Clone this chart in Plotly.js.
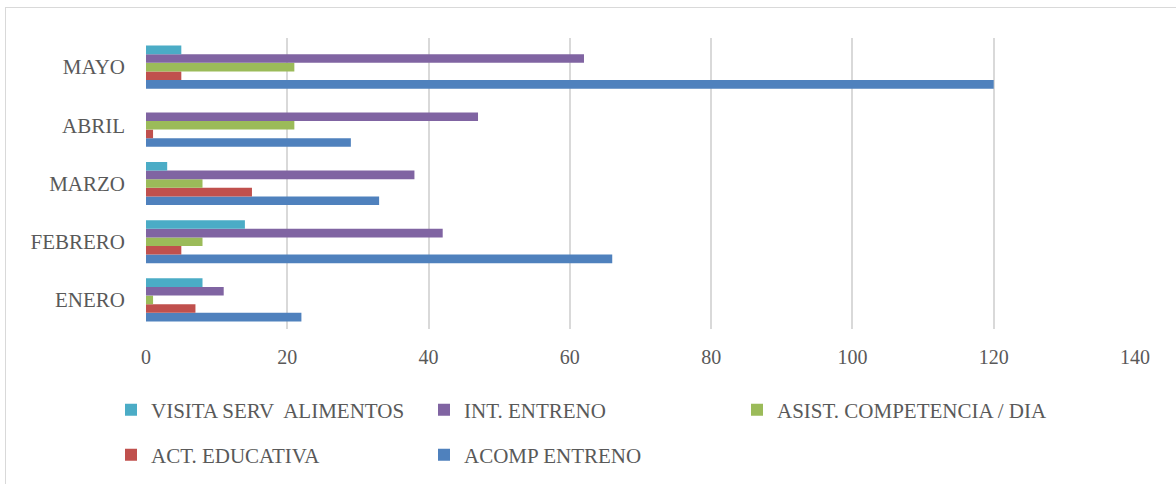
<!DOCTYPE html>
<html>
<head>
<meta charset="utf-8">
<script src="https://cdn.plot.ly/plotly-3.0.1.min.js"></script>
<style>
  html, body { margin: 0; padding: 0; background: #fff; }
  #wrap { position: relative; width: 1176px; height: 484px; }
  #chart { width: 1176px; height: 484px; }
  #frame { position: absolute; left: 5px; top: 7px; right: -2px; bottom: -2px;
           border-left: 1.5px solid #D9D9D9; border-top: 1.5px solid #D9D9D9; pointer-events: none; }
</style>
</head>
<body>
<div id="wrap">
  <div id="chart"></div>
  <div id="frame"></div>
</div>
<script>
const categories = ["ENERO", "FEBRERO", "MARZO", "ABRIL", "MAYO"];
const acompEntreno = [22, 66, 33, 29, 120];
const actEducativa = [7, 5, 15, 1, 5];
const asistCompetencia = [1, 8, 8, 21, 21];
const intEntreno = [11, 42, 38, 47, 62];
const visitaServ = [8, 14, 3, 0, 5];
const xTicks = [0, 20, 40, 60, 80, 100, 120, 140];

const font = { family: "Liberation Serif, DejaVu Serif, serif", color: "#595959" };

function bar(name, vals, color, legend) {
  return {
    type: "bar", orientation: "h", name: name, x: vals, y: categories,
    marker: { color: color, line: { width: 0 } }, legend: legend, hoverinfo: "x+name"
  };
}

const data = [
  bar("ACOMP ENTRENO", acompEntreno, "#4F81BD", "legend2"),
  bar("ACT. EDUCATIVA", actEducativa, "#C0504D", "legend2"),
  bar("ASIST. COMPETENCIA / DIA", asistCompetencia, "#9BBB59", "legend"),
  bar("INT. ENTRENO", intEntreno, "#8064A2", "legend"),
  bar("VISITA SERV  ALIMENTOS", visitaServ, "#4BACC6", "legend")
];

const legendCommon = {
  orientation: "h", xref: "container", yref: "container",
  xanchor: "left", yanchor: "middle", traceorder: "reversed",
  entrywidth: 268, entrywidthmode: "pixels",
  font: Object.assign({}, font, { size: 21 }),
  bgcolor: "rgba(0,0,0,0)", itemclick: false
};

const layout = {
  width: 1176, height: 484,
  margin: { l: 146, r: 41, t: 37.5, b: 155 },
  paper_bgcolor: "#fff", plot_bgcolor: "#fff",
  font: font,
  barmode: "group", bargap: 0.26, bargroupgap: 0,
  showlegend: true,
  xaxis: {
    range: [0, 140], tickvals: xTicks, ticktext: xTicks.map(String),
    showgrid: true, gridcolor: "#D9D9D9", gridwidth: 2,
    zeroline: false, showline: false, ticks: "",
    tickfont: Object.assign({}, font, { size: 20 }),
    ticklabelstandoff: 14, fixedrange: true
  },
  yaxis: {
    categoryorder: "array", categoryarray: categories,
    range: [-0.5, 4.5], showgrid: false, zeroline: false, showline: false, ticks: "",
    tickfont: Object.assign({}, font, { size: 21 }),
    ticklabelstandoff: 20, fixedrange: true
  },
  legend: Object.assign({}, legendCommon, { x: 111 / 1176, y: 1 - 410 / 484 }),
  legend2: Object.assign({}, legendCommon, { x: 111 / 1176, y: 1 - 455 / 484 })
};

Plotly.newPlot("chart", data, layout, { displayModeBar: false, staticPlot: true });
</script>
</body>
</html>
